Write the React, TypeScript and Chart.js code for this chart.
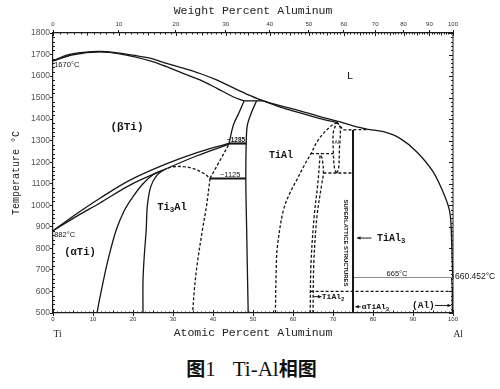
import React, { useEffect, useRef } from "react";
import { Chart, registerables } from "chart.js";

Chart.register(...registerables);

type P = [number, number];

// ---- axis ticks ----
const atomicTicks = [0, 10, 20, 30, 40, 50, 60, 70, 80, 90, 100];
const weightTicks = [0, 10, 20, 30, 40, 50, 60, 70, 80, 90, 100];
const tempTicks = [500, 600, 700, 800, 900, 1000, 1100, 1200, 1300, 1400, 1500, 1600, 1700, 1800];

// weight% Al -> atomic% Al (Al 26.98, Ti 47.87)
const wtToAt = (w: number) => {
  const a = w / 26.98;
  const t = (100 - w) / 47.87;
  return (a / (a + t)) * 100;
};

// ---- phase boundaries [atomic % Al, temperature °C] ----
const liquidus: P[] = [
  [0, 1670], [3.4, 1697], [7.6, 1710], [11.75, 1714], [15.9, 1708], [20, 1697], [24.25, 1683],
  [28.4, 1659], [32.5, 1637], [36.75, 1612], [40.9, 1582], [45, 1546], [49, 1512], [52.6, 1485],
  [57, 1462], [61.75, 1439], [66.5, 1413], [71.5, 1388], [74.25, 1373], [78.4, 1354], [82.6, 1342],
  [86.75, 1311], [90.9, 1249], [95, 1156], [98, 1040], [99.25, 963], [99.7, 808], [99.9, 684], [100, 660],
];
const betaSolidus: P[] = [
  [0, 1670], [5, 1699], [11.75, 1712], [17, 1702], [24.25, 1671], [28.4, 1644], [32.5, 1613],
  [36.75, 1582], [41, 1543], [45, 1504], [47.8, 1485],
];
const peritectic1490: P[] = [[47.8, 1485], [52.6, 1485]];
const gammaSolidus: P[] = [[52.6, 1485], [57, 1455], [62, 1428], [66.5, 1404], [71, 1385]];
const betaBoundary: P[] = [[47.8, 1485], [46.5, 1430], [45.1, 1373], [44, 1287]];
const alphaGammaBoundary: P[] = [
  [50.9, 1485], [49.6, 1430], [48.6, 1373], [48.3, 1288], [48.2, 1125], [48.4, 900], [48.8, 500],
];
const betaTransusUpper: P[] = [
  [0, 882], [6, 962], [11.75, 1033], [19.25, 1117], [28, 1190], [36, 1245], [44, 1288],
];
const betaTransusLower: P[] = [
  [0, 882], [6, 950], [11.75, 1011], [19.25, 1094], [27.6, 1164], [36, 1230], [44, 1284],
];
const eutectoid1285: P[] = [[44, 1287], [48.3, 1287]];
const eutectoid1125: P[] = [[39.25, 1125], [48.2, 1125]];
const alphaAlpha2: P[] = [
  [11, 500], [11.6, 560], [12.6, 650], [13.8, 750], [15.8, 885], [17.8, 975], [20, 1040],
  [22.5, 1100], [25, 1142], [27.6, 1164],
];
const alpha2Left: P[] = [
  [22.5, 500], [22.5, 650], [22.8, 760], [23.3, 885], [23.6, 1000], [24.5, 1090], [26, 1140], [27.6, 1164],
];
const alpha2Dome: P[] = [[27.6, 1164], [30, 1179], [34.25, 1175], [37.6, 1149], [39.25, 1125]];
const alpha2Right: P[] = [[39.25, 1125], [38.4, 1000], [37.3, 880], [36, 720], [35.3, 600], [34.9, 500]];
const alphaEutectoidLine: P[] = [[39.25, 1125], [41.5, 1200], [44, 1284]];
const gammaRight: P[] = [
  [55.6, 500], [55.8, 700], [56.1, 808], [57.6, 978], [59.3, 1060], [61, 1120], [62.8, 1185],
  [64.5, 1240], [66, 1295], [67.6, 1334], [69.5, 1368], [71, 1385],
];
const tiAl2Left: P[] = [[64.3, 500], [64.5, 730], [65.3, 950], [66.2, 1100], [66.8, 1240]];
const tiAl2Right: P[] = [[65, 500], [65.2, 730], [66, 950], [67.2, 1100], [67.6, 1150], [67.3, 1215], [66.8, 1240]];
const ti2Al5Left: P[] = [[70.9, 1150], [70.4, 1170], [70.1, 1240], [70.1, 1340], [71, 1385]];
const ti2Al5Right: P[] = [[70.9, 1150], [71.4, 1170], [71.6, 1260], [71.8, 1360], [71, 1385]];
const peakToRight: P[] = [[71, 1385], [72.6, 1350]];
const line1350: P[] = [[72.6, 1350], [78.4, 1352]];
const line1240: P[] = [[64.5, 1240], [70.1, 1240]];
const line1150: P[] = [[67.6, 1150], [75, 1150]];
const line600: P[] = [[64.4, 600], [100, 600]];
const tiAl3Line: P[] = [[75, 1350], [75, 500]];
const line665: P[] = [[75, 665], [99.6, 665]];
const alSolvus: P[] = [[99.6, 665], [99.8, 620], [99.85, 500]];

const curves: { pts: P[]; dash?: boolean; w?: number; color?: string; smooth?: boolean }[] = [
  { pts: liquidus, smooth: true },
  { pts: betaSolidus, smooth: true },
  { pts: peritectic1490 },
  { pts: gammaSolidus, smooth: true },
  { pts: betaBoundary, smooth: true },
  { pts: alphaGammaBoundary, smooth: true },
  { pts: betaTransusUpper, smooth: true },
  { pts: betaTransusLower, smooth: true },
  { pts: eutectoid1285, w: 2.2 },
  { pts: eutectoid1125, w: 2 },
  { pts: alphaAlpha2, smooth: true },
  { pts: alpha2Left, smooth: true },
  { pts: alpha2Dome, dash: true, smooth: true },
  { pts: alpha2Right, dash: true, smooth: true },
  { pts: alphaEutectoidLine, dash: true, smooth: true },
  { pts: gammaRight, dash: true, smooth: true },
  { pts: tiAl2Left, dash: true, smooth: true },
  { pts: tiAl2Right, dash: true, smooth: true },
  { pts: ti2Al5Left, dash: true, smooth: true },
  { pts: ti2Al5Right, dash: true, smooth: true },
  { pts: peakToRight, dash: true },
  { pts: line1350, dash: true },
  { pts: line1240, dash: true },
  { pts: line1150, dash: true },
  { pts: line600, dash: true },
  { pts: tiAl3Line, w: 2 },
  { pts: line665, w: 1, color: "#8a8a8a" },
  { pts: alSolvus, w: 1 },
];

// ---- text annotations ----
type Part = [string, boolean?];
const MONO = "'Liberation Mono', 'DejaVu Sans Mono', monospace";
const SANS = "'Liberation Sans', Arial, sans-serif";
const SERIF = "'Liberation Serif', 'Times New Roman', serif";
const labels: { parts: Part[]; x: number; t: number; size: number; font: string; align: "left" | "center" | "right"; bold?: boolean }[] = [
  { parts: [["L"]], x: 74.25, t: 1600, size: 11, font: MONO, align: "center" },
  { parts: [["(βTi)"]], x: 18.5, t: 1364, size: 11, font: MONO, align: "center", bold: true },
  { parts: [["TiAl"]], x: 57, t: 1233, size: 10, font: MONO, align: "center", bold: true },
  { parts: [["Ti"], ["3", true], ["Al"]], x: 29.75, t: 992, size: 10.5, font: MONO, align: "center", bold: true },
  { parts: [["(αTi)"]], x: 6.75, t: 783, size: 10.5, font: MONO, align: "center", bold: true },
  { parts: [["TiAl"], ["3", true]], x: 81, t: 848, size: 10, font: MONO, align: "left", bold: true },
  { parts: [["TiAl"], ["2", true]], x: 67.2, t: 576, size: 8, font: MONO, align: "left", bold: true },
  { parts: [["αTiAl"], ["3", true]], x: 77.2, t: 529, size: 8, font: MONO, align: "left", bold: true },
  { parts: [["(Al)"]], x: 92.6, t: 535, size: 9.5, font: MONO, align: "center", bold: true },
  { parts: [["1670°C"]], x: 0.3, t: 1652, size: 7.5, font: SANS, align: "left" },
  { parts: [["882°C"]], x: 0.3, t: 862, size: 7.5, font: SANS, align: "left" },
  { parts: [["~1285"]], x: 45.75, t: 1302, size: 6.5, font: SANS, align: "center", bold: true },
  { parts: [["~1125"]], x: 44.3, t: 1142, size: 7.5, font: SANS, align: "center" },
  { parts: [["665°C"]], x: 86, t: 681, size: 7.5, font: SANS, align: "center" },
  { parts: [["660.452°C"]], x: 100.5, t: 667, size: 8.5, font: SANS, align: "left" },
  { parts: [["Al"]], x: 70.9, t: 1290, size: 5, font: SANS, align: "center" },
];
const arrows: { from: P; to: P }[] = [
  { from: [79.6, 848], to: [76, 848] },
  { from: [65.1, 576], to: [67.1, 576] },
  { from: [76.9, 529], to: [75.6, 529] },
  { from: [95.5, 535], to: [99.5, 535] },
];
const verticalNote = { text: "SUPERLATTICE STRUCTURES", x: 73.1, t: 825, length: 87 };

function drawParts(ctx: CanvasRenderingContext2D, parts: Part[], x: number, y: number, size: number, font: string, align: string, bold?: boolean) {
  const w = bold ? "bold " : "";
  let total = 0;
  const widths: number[] = [];
  for (const [t, sub] of parts) {
    ctx.font = `${w}${sub ? size * 0.72 : size}px ${font}`;
    const m = ctx.measureText(t).width;
    widths.push(m);
    total += m;
  }
  let cx = align === "center" ? x - total / 2 : align === "right" ? x - total : x;
  parts.forEach(([t, sub], i) => {
    ctx.font = `${w}${sub ? size * 0.72 : size}px ${font}`;
    ctx.fillText(t, cx, sub ? y + size * 0.32 : y);
    cx += widths[i];
  });
}

const decor = {
  id: "decor",
  afterDraw(chart: any) {
    const { ctx, chartArea: a, scales } = chart;
    const xs = scales.x;
    const ys = scales.y;
    const X = (v: number) => xs.getPixelForValue(v);
    const Y = (v: number) => ys.getPixelForValue(v);
    ctx.save();
    ctx.strokeStyle = "#1c1c1c";
    ctx.lineWidth = 1;
    const seg = (x1: number, y1: number, x2: number, y2: number) => {
      ctx.beginPath();
      ctx.moveTo(x1, y1);
      ctx.lineTo(x2, y2);
      ctx.stroke();
    };
    // right frame
    seg(a.right, a.top, a.right, a.bottom);
    // temperature minor / right ticks
    for (let t = 500; t <= 1800; t += 20) {
      const major = t % 100 === 0;
      const y = Math.round(Y(t)) + 0.5;
      if (!major) seg(a.left, y, a.left + 2, y);
      seg(a.right, y, a.right - (major ? 4 : 2), y);
    }
    // atomic minor ticks (bottom)
    for (let v = 0; v <= 100; v += 1) {
      const x = Math.round(X(v)) + 0.5;
      seg(x, a.bottom, x, a.bottom - (v % 10 === 0 ? 3 : v % 5 === 0 ? 2.5 : 1.5));
    }
    // weight minor ticks (top)
    for (let w = 0; w <= 100; w += 1) {
      const x = Math.round(X(wtToAt(w))) + 0.5;
      seg(x, a.top, x, a.top + (w % 10 === 0 ? 3 : w % 5 === 0 ? 2.5 : 1.5));
    }
    // labels
    ctx.fillStyle = "#151515";
    ctx.textBaseline = "middle";
    ctx.textAlign = "left";
    for (const l of labels) drawParts(ctx, l.parts, X(l.x), Y(l.t), l.size, l.font, l.align, l.bold);
    // arrows
    ctx.lineWidth = 1;
    for (const ar of arrows) {
      const x1 = X(ar.from[0]), y1 = Y(ar.from[1]), x2 = X(ar.to[0]), y2 = Y(ar.to[1]);
      seg(x1, y1, x2, y2);
      const dir = Math.sign(x2 - x1);
      ctx.beginPath();
      ctx.moveTo(x2, y2);
      ctx.lineTo(x2 - dir * 3.5, y2 - 1.8);
      ctx.lineTo(x2 - dir * 3.5, y2 + 1.8);
      ctx.closePath();
      ctx.fill();
    }
    // vertical note
    ctx.save();
    ctx.translate(X(verticalNote.x), Y(verticalNote.t));
    ctx.rotate(Math.PI / 2);
    ctx.font = `bold 6px ${SANS}`;
    const m = ctx.measureText(verticalNote.text).width;
    ctx.scale(verticalNote.length / m, 1);
    ctx.textAlign = "center";
    ctx.fillText(verticalNote.text, 0, 0);
    ctx.restore();
    // Ti / Al end labels under the axis
    ctx.font = `9.5px ${SERIF}`;
    ctx.fillStyle = "#222";
    ctx.textAlign = "left";
    ctx.fillText("Ti", X(0) + 0.5, a.bottom + 21);
    ctx.fillText("Al", X(100) + 0.5, a.bottom + 21);
    ctx.restore();
  },
};

export default function App() {
  const ref = useRef<HTMLCanvasElement | null>(null);
  useEffect(() => {
    if (!ref.current) return;
    const datasets = curves.map((c) => ({
      data: c.pts.map(([x, y]) => ({ x, y })),
      showLine: true,
      borderColor: c.color || "#161616",
      borderWidth: c.w ?? 1.3,
      borderDash: c.dash ? [3, 2] : [],
      pointRadius: 0,
      tension: c.smooth ? 0.35 : 0,
      fill: false,
      clip: 4,
    }));
    const axisColor = "#1c1c1c";
    const chart = new Chart(ref.current, {
      type: "scatter",
      data: { datasets },
      options: {
        animation: false,
        responsive: false,
        maintainAspectRatio: false,
        events: [],
        layout: { padding: { left: 0, right: 47, top: 0, bottom: 0 } },
        plugins: { legend: { display: false }, tooltip: { enabled: false } },
        scales: {
          x: {
            type: "linear",
            position: "bottom",
            min: 0,
            max: 100,
            afterBuildTicks: (s: any) => {
              s.ticks = atomicTicks.map((v) => ({ value: v }));
            },
            ticks: { font: { size: 6, family: SANS }, color: "#333", maxRotation: 0, autoSkip: false, padding: 0, callback: (v: any) => String(v) },
            grid: { drawOnChartArea: false, tickLength: 3, color: axisColor },
            border: { display: true, color: axisColor, width: 1.2 },
            title: { display: true, text: "Atomic Percent Aluminum", color: "#222", font: { size: 11.5, family: MONO }, padding: { top: 0, bottom: 5 } },
            afterFit: (s: any) => {
              s.height = 32;
            },
          },
          xw: {
            type: "linear",
            position: "top",
            min: 0,
            max: 100,
            afterBuildTicks: (s: any) => {
              s.ticks = weightTicks.map((w) => ({ value: wtToAt(w) }));
            },
            ticks: { font: { size: 6, family: SANS }, color: "#333", maxRotation: 0, autoSkip: false, padding: 2, callback: (_v: any, i: number) => String(weightTicks[i]) },
            grid: { drawOnChartArea: false, tickLength: 3, color: axisColor },
            border: { display: true, color: axisColor, width: 1.2 },
            title: { display: true, text: "Weight Percent Aluminum", color: "#222", font: { size: 11.5, family: MONO }, padding: { top: 4, bottom: 0 } },
            afterFit: (s: any) => {
              s.height = 33;
            },
          },
          y: {
            type: "linear",
            position: "left",
            min: 500,
            max: 1800,
            afterBuildTicks: (s: any) => {
              s.ticks = tempTicks.map((v) => ({ value: v }));
            },
            ticks: { font: { size: 8.5, family: SANS }, color: "#555", padding: 0, callback: (v: any) => String(v) },
            grid: { drawOnChartArea: false, tickLength: 3, color: axisColor },
            border: { display: true, color: axisColor, width: 1.2 },
            title: { display: true, text: "Temperature °C", color: "#222", font: { size: 10, family: MONO }, padding: { top: 10, bottom: 0 } },
            afterFit: (s: any) => {
              s.width = 53;
            },
          },
        },
      },
      plugins: [decor],
    } as any);
    return () => chart.destroy();
  }, []);

  return (
    <div style={{ position: "absolute", left: 0, top: 0, width: 500, height: 389, background: "#fff" }}>
      <canvas ref={ref} width={500} height={345} style={{ display: "block", width: 500, height: 345 }} />
      <div
        style={{
          position: "absolute",
          left: 0,
          top: 356,
          width: 500,
          textAlign: "center",
          lineHeight: "24px",
          color: "#111",
          paddingLeft: 3,
          boxSizing: "border-box",
        }}
      >
        <span style={{ fontFamily: "'Noto Sans CJK SC', sans-serif", fontWeight: 700, fontSize: 19 }}>图</span>
        <span style={{ fontFamily: SERIF, fontSize: 21 }}>1</span>
        <span style={{ display: "inline-block", width: 17 }} />
        <span style={{ fontFamily: SERIF, fontSize: 21 }}>Ti-Al</span>
        <span style={{ fontFamily: "'Noto Sans CJK SC', sans-serif", fontWeight: 700, fontSize: 19 }}>相图</span>
      </div>
    </div>
  );
}
